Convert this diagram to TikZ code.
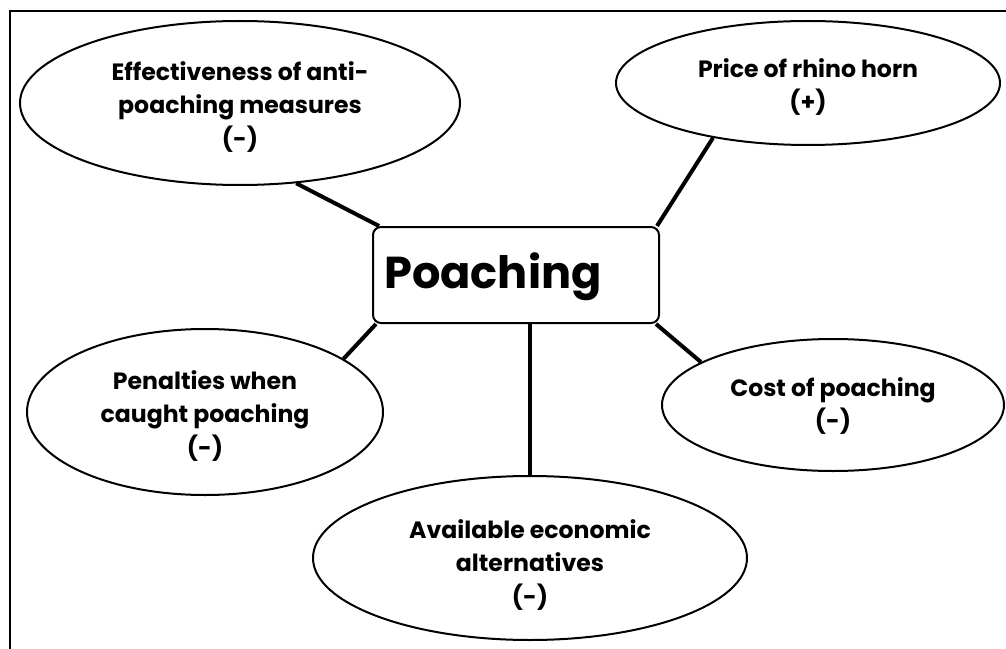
\documentclass[tikz,border=0pt]{standalone}
\usepackage{fontspec}
\setmainfont{Poppins}
\usetikzlibrary{shapes.geometric}
\pgfdeclarelayer{background}
\pgfdeclarelayer{canvas}
\pgfsetlayers{canvas,background,main}
\tikzset{
  bubble/.style={draw=black, line width=1.5pt, ellipse, inner sep=0pt, fill=white},
  txt/.style={font=\bfseries\fontsize{17.7}{25}\selectfont, align=center, inner sep=0pt},
  hub/.style={draw=black, line width=1.5pt, rounded corners=6pt, fill=white, inner sep=0pt},
  link/.style={line width=3pt, black},
  frame/.style={line width=2pt, black}
}
\begin{document}
\begin{tikzpicture}[x=0.75pt, y=-0.75pt]
\path[use as bounding box, clip] (0,0) rectangle (1006,649);
\begin{pgfonlayer}{canvas}
\fill[white] (0,0) rectangle (1006,649);
\end{pgfonlayer}
\coordinate (fa) at (10,700);
\coordinate (fb) at (10,11);
\coordinate (fc) at (1100,11);
\draw[frame] (fa) -- (fb) -- (fc);

\node[hub, minimum width=286*0.75pt, minimum height=96*0.75pt] (box) at (516,275) {};
\node[anchor=base west, inner sep=0pt, font=\bfseries\fontsize{33.5}{40}\selectfont] (ptxt) at (384,288) {Poaching};

\node[bubble, minimum width=440*0.75pt, minimum height=164*0.75pt] (e1) at (240,103) {};
\node[txt] (t1) at (240,107) {Effectiveness of anti-\\poaching measures\\(-)};

\node[bubble, minimum width=384*0.75pt, minimum height=124*0.75pt] (e2) at (808,83) {};
\node[txt] (t2) at (808,87) {Price of rhino horn\\(+)};

\node[bubble, minimum width=356*0.75pt, minimum height=166*0.75pt] (e3) at (205,412) {};
\node[txt] (t3) at (205,416) {Penalties when\\caught poaching\\(-)};

\node[bubble, minimum width=434*0.75pt, minimum height=164*0.75pt] (e4) at (530,558) {};
\node[txt] (t4) at (530,565) {Available economic\\alternatives\\(-)};

\node[bubble, minimum width=342*0.75pt, minimum height=132*0.75pt] (e5) at (833,405) {};
\node[txt] (t5) at (833,406) {Cost of poaching\\(-)};

\begin{pgfonlayer}{background}
\draw[link] (e1.-55.2) -- ([xshift=5.25pt]box.north west);
\draw[link] (e2.-150.8) -- ([xshift=-2.25pt]box.north east);
\draw[link] (e3.21.9) -- ([xshift=3pt]box.south west);
\draw[link] (e4.north) -- (e4.north |- box.south);
\draw[link] (e5.162.8) -- ([xshift=-3pt]box.south east);
\end{pgfonlayer}
\end{tikzpicture}
\end{document}
